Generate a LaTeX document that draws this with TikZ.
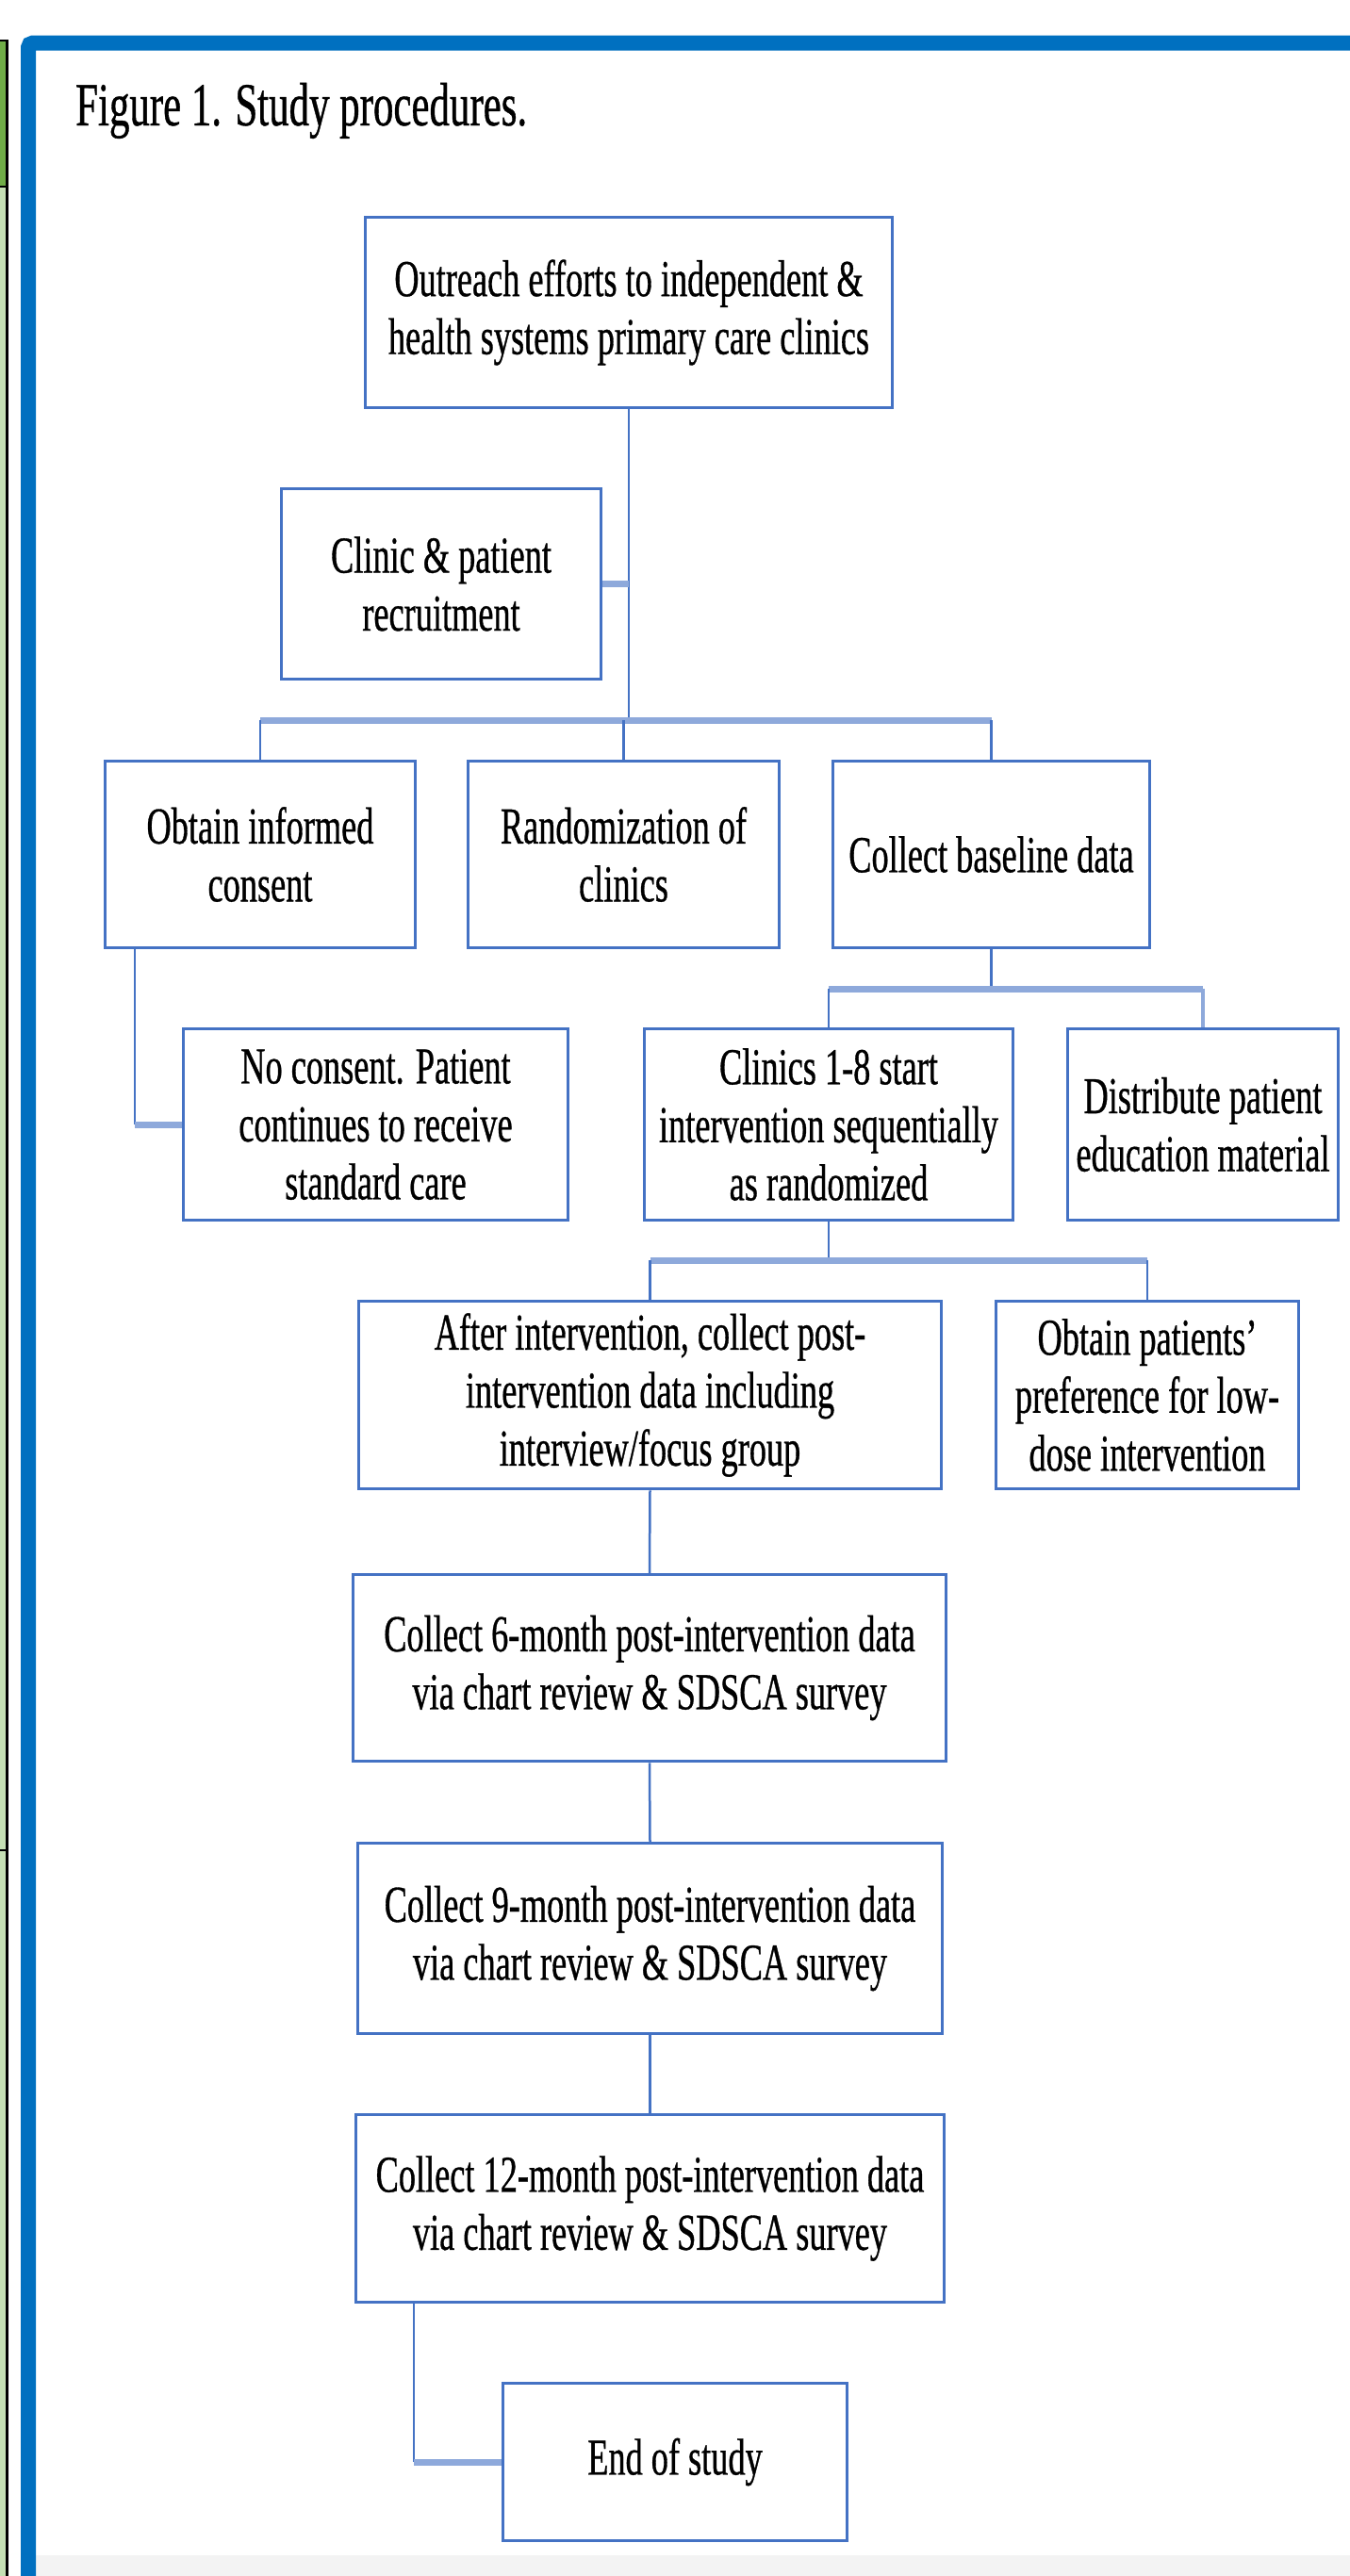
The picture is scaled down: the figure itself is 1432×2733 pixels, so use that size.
\documentclass[tikz,border=0pt]{standalone}
\usepackage{fontspec}
\setmainfont{Liberation Serif}[FakeStretch=0.66, FakeBold=0.6]

\definecolor{frameBlue}{HTML}{0070C0}
\definecolor{boxBlue}{HTML}{4472C4}
\definecolor{busBlue}{HTML}{8EA9DB}
\definecolor{greenDark}{HTML}{70AD47}
\definecolor{greenLight}{HTML}{C5E0B4}
\definecolor{greyBand}{HTML}{F3F3F3}

\newcommand{\bodyfont}{\fontsize{55}{61.5}\selectfont}
\newcommand{\titlefont}{\fontsize{65}{72}\selectfont}

\begin{document}
\begin{tikzpicture}[
        x=1pt, y=-1pt,
        procBox/.style={rectangle, draw=boxBlue, line width=3.5pt, fill=white, align=center, inner sep=0pt, font=\bodyfont},
        link/.style={draw=boxBlue, line width=2.5pt},
        busLine/.style={draw=busBlue, line width=7pt}
    ]
        \useasboundingbox (0,0) rectangle (1432,2733);
        \clip (0,0) rectangle (1432,2733);

        % Page and frame
        \fill[white] (0,0) rectangle (1432,2733);
        \fill[greyBand] (38,2711) rectangle (1432,2733);
        \fill[greenDark] (0,43) rectangle (7,198);
        \fill[greenLight] (0,198) rectangle (7,2733);
        \draw[black, line width=2.5pt] (0,43) -- (7.5,43) -- (7.5,2733);
        \draw[black, line width=2.5pt] (0,198) -- (7.5,198);
        \draw[black, line width=2.5pt] (0,1963) -- (7.5,1963);
        \draw[frameBlue, line width=16pt, rounded corners=5pt] (30,2760) -- (30,45.5) -- (1460,45.5);

        % Title
        \node[anchor=base west, font=\titlefont, inner sep=0pt] (title) at (80,133) {Figure 1. Study procedures.};

        % Boxes
        \node[procBox, minimum width=559, minimum height=202] (outreach) at (667,331.5) {Outreach efforts to independent \&\\health systems primary care clinics};
        \node[procBox, minimum width=339, minimum height=202] (recruit) at (468,619.5) {Clinic \& patient\\recruitment};
        \node[procBox, minimum width=329, minimum height=198] (consent) at (276,906.5) {Obtain informed\\consent};
        \node[procBox, minimum width=330, minimum height=198] (randomize) at (661.5,906.5) {Randomization of\\clinics};
        \node[procBox, minimum width=336, minimum height=198] (baseline) at (1051.5,906.5) {Collect baseline data};
        \node[procBox, minimum width=408, minimum height=203] (noconsent) at (398.5,1193) {No consent. Patient\\continues to receive\\standard care};
        \node[procBox, minimum width=391, minimum height=203] (clinics) at (879,1193) {Clinics 1-8 start\\intervention sequentially\\as randomized};
        \node[procBox, minimum width=287, minimum height=203] (distribute) at (1276,1193) {Distribute patient\\education material};
        \node[procBox, minimum width=618, minimum height=199] (after) at (689.5,1480) {After intervention, collect post-\\intervention data including\\interview/focus group};
        \node[procBox, minimum width=321, minimum height=199] (prefer) at (1217,1480) {Obtain patients'\\preference for low-\\dose intervention};
        \node[procBox, minimum width=629, minimum height=198] (six) at (689,1769.5) {Collect 6-month post-intervention data\\via chart review \& SDSCA survey};
        \node[procBox, minimum width=620, minimum height=202] (nine) at (689.5,2056.5) {Collect 9-month post-intervention data\\via chart review \& SDSCA survey};
        \node[procBox, minimum width=624, minimum height=199] (twelve) at (689.5,2343) {Collect 12-month post-intervention data\\via chart review \& SDSCA survey};
        \node[procBox, minimum width=365, minimum height=167] (endstudy) at (716,2612) {End of study};

        % Edges from outreach
        \coordinate (busTop) at (667,764);
        \draw[link] (outreach.south) -- (outreach.south |- busTop);
        \draw[busLine] (recruit.east) -- (recruit.east -| outreach.south);
        \draw[busLine] (consent.north |- busTop) -- (baseline.north |- busTop);
        \draw[link] (consent.north |- busTop) -- (consent.north);
        \draw[link] (randomize.north |- busTop) -- (randomize.north);
        \draw[link] (baseline.north |- busTop) -- (baseline.north);

        % Edges from consent
        \coordinate (consentTap) at ([xshift=33pt]consent.south west);
        \draw[link] (consentTap) -- (consentTap |- noconsent.west);
        \draw[busLine] (consentTap |- noconsent.west) -- (noconsent.west);

        % Edges from baseline
        \coordinate (busMid) at (1051.5,1049);
        \draw[link] (baseline.south) -- (baseline.south |- busMid);
        \draw[busLine] (clinics.north |- busMid) -- (distribute.north |- busMid);
        \draw[link] (clinics.north |- busMid) -- (clinics.north);
        \draw[busLine, line width=4pt] (distribute.north |- busMid) -- (distribute.north);

        % Edges from clinics
        \coordinate (busLow) at (879,1337);
        \draw[link] (clinics.south) -- (clinics.south |- busLow);
        \draw[busLine] (after.north |- busLow) -- (prefer.north |- busLow);
        \draw[link] (after.north |- busLow) -- (after.north);
        \draw[link] (prefer.north |- busLow) -- (prefer.north);

        % Follow-up chain
        \draw[link] (after.south) -- (six.north);
        \draw[link] (six.south) -- (nine.north);
        \draw[link] (nine.south) -- (twelve.north);
        \coordinate (twelveTap) at ([xshift=63pt]twelve.south west);
        \draw[link] (twelveTap) -- (twelveTap |- endstudy.west);
        \draw[busLine] (twelveTap |- endstudy.west) -- (endstudy.west);
    \end{tikzpicture}
\end{document}
